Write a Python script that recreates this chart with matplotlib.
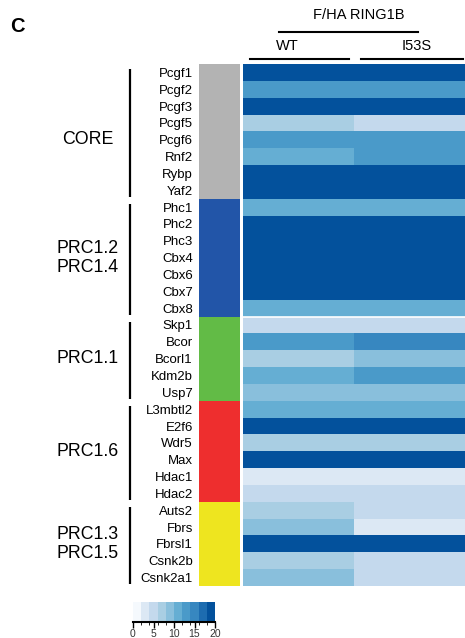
import matplotlib
matplotlib.use("Agg")
import matplotlib.pyplot as plt
import numpy as np
from matplotlib.colors import ListedColormap, BoundaryNorm

plt.rcParams['font.family'] = ['Liberation Sans', 'DejaVu Sans']

# ---------------- data ----------------
genes = ["Pcgf1", "Pcgf2", "Pcgf3", "Pcgf5", "Pcgf6", "Rnf2", "Rybp", "Yaf2",
         "Phc1", "Phc2", "Phc3", "Cbx4", "Cbx6", "Cbx7", "Cbx8",
         "Skp1", "Bcor", "Bcorl1", "Kdm2b", "Usp7",
         "L3mbtl2", "E2f6", "Wdr5", "Max", "Hdac1", "Hdac2",
         "Auts2", "Fbrs", "Fbrsl1", "Csnk2b", "Csnk2a1"]
wt_values = [19, 13, 19, 7, 13, 11, 19, 19,
             11, 19, 19, 19, 19, 19, 11,
             5, 13, 7, 11, 9,
             11, 19, 7, 19, 3, 5,
             7, 9, 19, 7, 9]
i53s_values = [19, 13, 19, 5, 13, 13, 19, 19,
               11, 19, 19, 19, 19, 19, 11,
               5, 15, 9, 13, 9,
               11, 19, 7, 19, 3, 5,
               5, 3, 19, 5, 5]
conditions = ["WT", "I53S"]
group_names = ["CORE", "PRC1.2\nPRC1.4", "PRC1.1", "PRC1.6", "PRC1.3\nPRC1.5"]
group_sizes = [8, 7, 5, 6, 5]
group_colors = ["#b3b3b3", "#2255a8", "#62bb46", "#ee2e2e", "#eee51f"]
cbar_ticks = [0, 5, 10, 15, 20]
level_colors = ['#f5f9fd', '#dce8f4', '#c4d9ed', '#a9cee3', '#89bfdc',
                '#65aed3', '#4a9ac9', '#3787c0', '#1d6cb0', '#03519c']
levels = np.arange(0, 21, 2)

# ---------------- figure ----------------
W, H = 465, 638
fig = plt.figure(figsize=(W / 100, H / 100), dpi=100)

def rect(x0, y0, x1, y1):
    return [x0 / W, 1 - y1 / H, (x1 - x0) / W, (y1 - y0) / H]

cmap = ListedColormap(level_colors)
norm = BoundaryNorm(levels, cmap.N)

# heatmap
ax_h = fig.add_axes(rect(243, 64, 465, 586))
mat = np.column_stack([wt_values, i53s_values])
mesh = ax_h.pcolormesh(np.arange(3), np.arange(len(genes) + 1), mat,
                       cmap=cmap, norm=norm)
ax_h.set_ylim(len(genes), 0)
ax_h.set_xlim(0, 2)
ax_h.axhline(sum(group_sizes[:2]), color='white', lw=1.2)
ax_h.axis('off')

# side group bar
ax_s = fig.add_axes(rect(199, 64, 240, 586))
grp_idx = np.repeat(np.arange(len(group_sizes)), group_sizes)
ax_s.pcolormesh(np.arange(2), np.arange(len(genes) + 1), grp_idx[:, None],
                cmap=ListedColormap(group_colors),
                norm=BoundaryNorm(np.arange(len(group_sizes) + 1) - 0.5, len(group_sizes)))
ax_s.set_ylim(len(genes), 0)
ax_s.set_xlim(0, 1)
ax_s.set_xticks([])
ax_s.set_yticks(np.arange(len(genes)) + 0.5)
ax_s.set_yticklabels(genes, fontsize=9.5)
ax_s.tick_params(axis='y', length=0, pad=4.5)
for sp in ax_s.spines.values():
    sp.set_visible(False)

# group brackets and labels
def px2ax(x):
    return (x - 199) / 41

label_shift = [0.5, 0, 0, 0, 0]
tr = ax_s.get_yaxis_transform()
start = 0
for name, n, sh in zip(group_names, group_sizes, label_shift):
    top = start + 0.3
    bot = start + n - 0.1
    ax_s.plot([px2ax(130)] * 2, [top, bot], transform=tr, color='black',
              lw=1.6, clip_on=False, solid_capstyle='butt')
    ax_s.text(px2ax(88), start + n / 2 + sh, name, transform=tr, ha='center',
              va='center', fontsize=12.8, linespacing=1.15)
    start += n

# header overlay
ax_o = fig.add_axes([0, 0, 1, 1], zorder=-1)
ax_o.set_xlim(0, W)
ax_o.set_ylim(H, 0)
ax_o.axis('off')
ax_o.text(10, 27, "C", fontsize=14.5, fontweight='bold', va='center', ha='left')
ax_o.text(359, 15, "F/HA RING1B", fontsize=10.5, ha='center', va='center')
ax_o.plot([279, 418], [32, 32], color='black', lw=1.5)
ax_o.text(287, 46, conditions[0], fontsize=10.5, ha='center', va='center')
ax_o.text(417, 46, conditions[1], fontsize=10.5, ha='center', va='center')
ax_o.plot([250, 349], [59, 59], color='black', lw=1.5)
ax_o.plot([361, 463], [59, 59], color='black', lw=1.5)

# colorbar
cax = fig.add_axes(rect(133, 602, 215, 622))
cb = fig.colorbar(mesh, cax=cax, orientation='horizontal', ticks=cbar_ticks)
cb.outline.set_visible(False)
cax.axhline(cax.get_ylim()[0], color='black', lw=1.5, clip_on=False)
cax.tick_params(axis='x', length=4, width=1, labelsize=7.5, pad=1,
                labelcolor='#333333')

fig.savefig("out.png", dpi=100)
